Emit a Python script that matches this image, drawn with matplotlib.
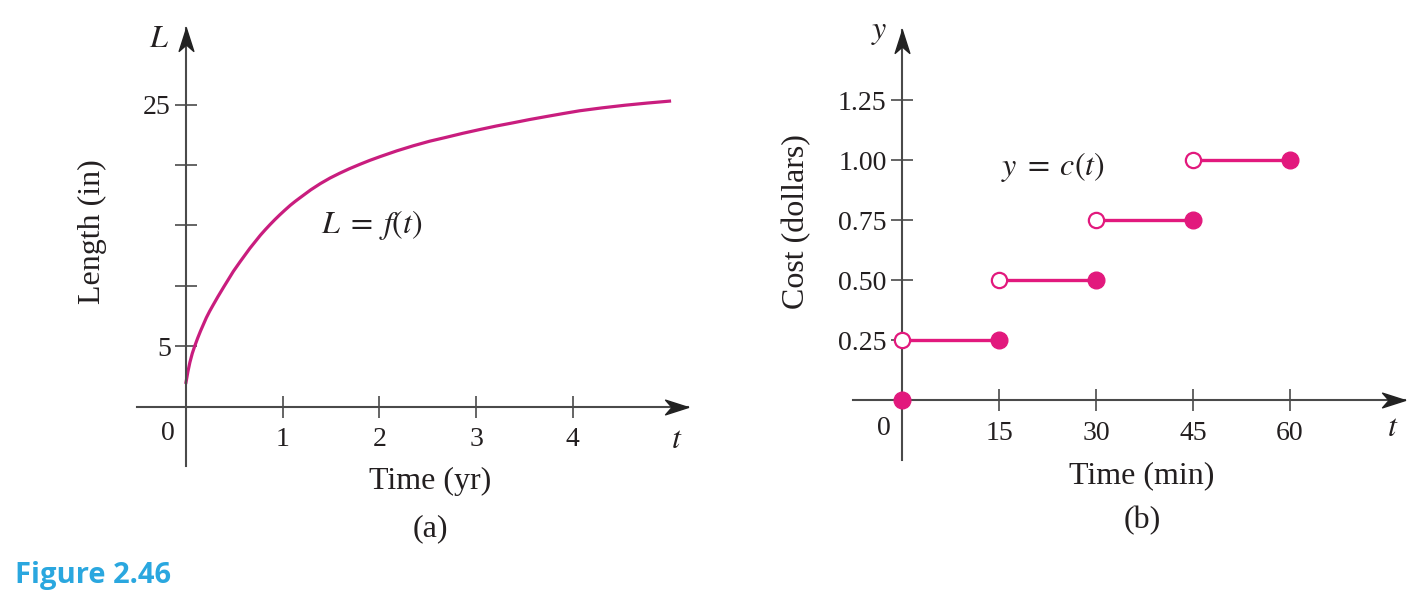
import matplotlib
matplotlib.use("Agg")
import matplotlib.pyplot as plt
from matplotlib.path import Path

plt.rcParams["font.family"] = ["Liberation Serif", "DejaVu Serif"]
plt.rcParams["mathtext.fontset"] = "stix"

# (a) length of the fish
t_years = [0, 0.02, 0.04, 0.065, 0.09, 0.12, 0.15, 0.18, 0.21, 0.245, 0.28,
           0.33, 0.39, 0.44, 0.49, 0.56, 0.61, 0.66, 0.71, 0.77, 0.82, 0.87,
           0.92, 0.97, 1.02, 1.08, 1.13, 1.18, 1.29, 1.39, 1.49, 1.59, 1.69,
           1.80, 1.90, 2.01, 2.18, 2.35, 2.52, 2.69, 2.86, 3.04, 3.21, 3.38,
           3.55, 3.73, 3.90, 4.07, 4.30, 4.54, 4.77, 5.00]
length_in = [2.0, 2.9, 3.65, 4.4, 5.0, 5.65, 6.25, 6.8, 7.35, 7.9, 8.4,
             9.1, 9.9, 10.55, 11.2, 12.0, 12.55, 13.1, 13.6, 14.2, 14.65, 15.08,
             15.49, 15.88, 16.25, 16.68, 17.0, 17.3, 17.95, 18.47, 18.93, 19.33, 19.7,
             20.07, 20.39, 20.71, 21.18, 21.6, 21.98, 22.3, 22.63, 22.95, 23.24, 23.5,
             23.77, 24.03, 24.27, 24.5, 24.74, 24.96, 25.14, 25.3]
a_xticks = [1, 2, 3, 4]
a_yticks = [5, 10, 15, 20, 25]
a_ylabels = ["5", "", "", "", "25"]

# (b) parking cost step function
step_starts = [0, 15, 30, 45]
step_ends = [15, 30, 45, 60]
step_costs = [0.25, 0.50, 0.75, 1.00]
b_xticks = [15, 30, 45, 60]
b_yticks = [0.25, 0.50, 0.75, 1.00, 1.25]
b_ylabels = ["0.25", "0.50", "0.75", "1.00", "1.25"]

W, H = 1418, 610
curve_col = "#c91d7e"
step_col = "#e2197d"
ink = "#231f20"
axis_col = "#4a4a4a"
TICK_FS = 20
LAB_FS = 23

arrow_right = Path([(0, 0), (-1, 0.32), (-0.72, 0), (-1, -0.32), (0, 0)],
                   [Path.MOVETO, Path.LINETO, Path.LINETO, Path.LINETO, Path.CLOSEPOLY])
arrow_up = Path([(0, 0), (-0.32, -1), (0, -0.72), (0.32, -1), (0, 0)],
                [Path.MOVETO, Path.LINETO, Path.LINETO, Path.LINETO, Path.CLOSEPOLY])

fig = plt.figure(figsize=(W / 100, H / 100), dpi=100)


def px_axes(left, right, top, bottom):
    return fig.add_axes([left / W, 1 - bottom / H, (right - left) / W, (bottom - top) / H])


def style_axes(ax, xlim, ylim):
    ax.set_xlim(*xlim)
    ax.set_ylim(*ylim)
    for s in ["top", "right"]:
        ax.spines[s].set_visible(False)
    ax.spines["left"].set_position(("data", 0))
    ax.spines["bottom"].set_position(("data", 0))
    for s in ["left", "bottom"]:
        ax.spines[s].set_color(axis_col)
        ax.spines[s].set_linewidth(1.5)
    ax.tick_params(direction="inout", length=16, width=1.2, color=axis_col,
                   labelsize=TICK_FS, labelcolor=ink)
    ax.tick_params(axis="x", pad=7)
    ax.tick_params(axis="y", pad=3)
    ax.plot([xlim[1]], [0], marker=arrow_right, ms=33, color="#222222",
            clip_on=False, zorder=5)
    ax.plot([0], [ylim[1]], marker=arrow_up, ms=33, color="#222222",
            clip_on=False, zorder=5)
    ax.patch.set_alpha(0)


# ---- panel (a)
ax1 = px_axes(137, 688, 28, 466)
style_axes(ax1, ((137 - 186) / 96.7, (688 - 186) / 96.7),
           ((406.5 - 466) / 12.07, (406.5 - 28) / 12.07))
ax1.plot(t_years, length_in, color=curve_col, lw=2.3, solid_joinstyle="round")
ax1.set_xticks(a_xticks)
ax1.set_yticks(a_yticks)
ax1.set_yticklabels(a_ylabels)
ax1.text(-0.12, -1.2, "0", ha="right", va="top", fontsize=TICK_FS, color=ink)
ax1.text(5.07, -1.6, "$t$", ha="center", va="top", fontsize=LAB_FS, color=ink)
ax1.text(-0.17, 30.4, "$L$", ha="right", va="center", fontsize=LAB_FS, color=ink)
ax1.text(1.92, 15.0, r"$L\;=\;f(t)$", ha="center", va="center", fontsize=LAB_FS, color=ink)

# ---- panel (b)
ax2 = px_axes(853, 1405, 30, 460)
style_axes(ax2, ((853 - 902) * 15 / 97, (1405 - 902) * 15 / 97),
           ((400 - 460) / 240, (400 - 30) / 240))
for x0, x1, c in zip(step_starts, step_ends, step_costs):
    ax2.plot([x0, x1], [c, c], color=step_col, lw=2.4, zorder=3)
    ax2.plot([x1], [c], "o", ms=12, color=step_col, zorder=4, clip_on=False)
    ax2.plot([x0], [c], "o", ms=11, mfc="white", mec=step_col, mew=1.6,
             zorder=4, clip_on=False)
ax2.plot([0], [0], "o", ms=12, color=step_col, zorder=6, clip_on=False)
ax2.set_xticks(b_xticks)
ax2.set_yticks(b_yticks)
ax2.set_yticklabels(b_ylabels)
ax2.text(-1.7, -0.067, "0", ha="right", va="top", fontsize=TICK_FS, color=ink)
ax2.text(75.9, -0.06, "$t$", ha="center", va="top", fontsize=LAB_FS, color=ink)
ax2.text(-2.2, 1.53, "$y$", ha="right", va="center", fontsize=LAB_FS, color=ink)
ax2.text(23.3, 0.97, r"$y\;=\;c(t)$", ha="center", va="center", fontsize=LAB_FS, color=ink)

# ---- labels around the panels
def ftext(x, y, s, **kw):
    fig.text(x / W, 1 - y / H, s, ha="center", va="center", color=ink, **kw)

ftext(430, 481, "Time (yr)", fontsize=LAB_FS)
ftext(430, 529, "(a)", fontsize=LAB_FS)
ftext(92, 232, "Length (in)", fontsize=LAB_FS, rotation=90)
ftext(1142, 476, "Time (min)", fontsize=LAB_FS)
ftext(1142, 521, "(b)", fontsize=LAB_FS)
ftext(797, 222, "Cost (dollars)", fontsize=LAB_FS, rotation=90)

fig.text(15 / W, 1 - 575 / H, "Figure 2.46", ha="left", va="center",
         fontsize=21, fontweight="bold", color="#2aa7df", family="Open Sans")

fig.savefig("out.png", dpi=100)
